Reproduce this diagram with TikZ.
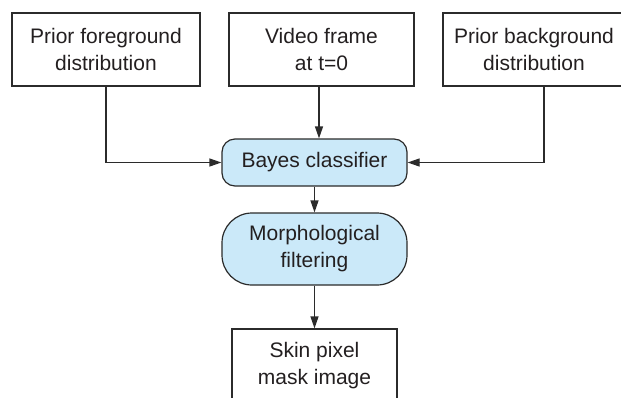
\documentclass[tikz,border=0pt]{standalone}
\usepackage{fontspec}
\setmainfont{Liberation Sans}
\usetikzlibrary{arrows.meta}
\definecolor{linec}{HTML}{2B2B2B}
\definecolor{textc}{HTML}{231F20}
\definecolor{procfill}{HTML}{CBE9F9}
\tikzset{
  base/.style={draw=linec, line width=1.2pt, text=textc, align=center,
    font=\fontsize{21pt}{27pt}\selectfont, inner sep=0pt},
  databox/.style={base, rectangle, minimum height=73pt},
  procbox/.style={base, rectangle, fill=procfill, minimum width=185pt},
  arr/.style={draw=linec, line width=1.2pt, -{Triangle[length=12pt,width=8pt]}}
}
\begin{document}
\begin{tikzpicture}[x=1pt,y=-1pt]
\useasboundingbox (0,0) rectangle (621,397);
\node[databox, minimum width=188pt] (fg) at (106,49.5) {Prior foreground\\distribution};
\node[databox, minimum width=185pt] (vid) at (321.5,49.5) {Video frame\\at t=0};
\node[databox, minimum width=182pt] (bg) at (534,49.5) {Prior background\\distribution};
\node[procbox, minimum height=47pt, rounded corners=13pt] (bayes) at (314.5,162.5) {Bayes classifier};
\node[procbox, minimum height=72pt, rounded corners=30pt] (morph) at (314.5,249) {Morphological\\filtering};
\node[databox, minimum width=165pt] (skin) at (314.5,365.5) {Skin pixel\\mask image};
\draw[arr] ([xshift=-2.5pt]vid.south) -- ([xshift=-2.5pt]vid.south |- bayes.north);
\draw[arr] (fg.south) |- (bayes.west);
\draw[arr] ([xshift=10pt]bg.south) |- (bayes.east);
\draw[arr] (bayes.south) -- (morph.north);
\draw[arr] (morph.south) -- (skin.north);
\end{tikzpicture}
\end{document}
